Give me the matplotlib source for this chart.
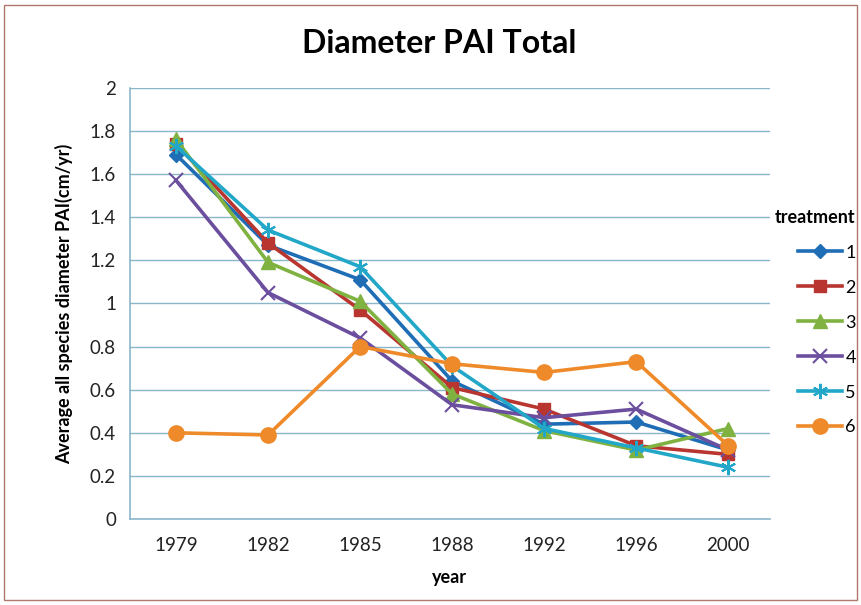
import matplotlib.pyplot as plt
from matplotlib.patches import Rectangle

plt.rcParams["font.family"] = ["Lato", "DejaVu Sans"]

years = ["1979", "1982", "1985", "1988", "1992", "1996", "2000"]
t1 = [1.69, 1.27, 1.11, 0.64, 0.44, 0.45, 0.32]
t2 = [1.74, 1.28, 0.97, 0.61, 0.51, 0.34, 0.30]
t3 = [1.76, 1.19, 1.01, 0.58, 0.41, 0.32, 0.42]
t4 = [1.57, 1.05, 0.84, 0.53, 0.47, 0.51, 0.32]
t5 = [1.73, 1.34, 1.17, 0.71, 0.42, 0.33, 0.24]
t6 = [0.40, 0.39, 0.80, 0.72, 0.68, 0.73, 0.34]
labels = ["1", "2", "3", "4", "5", "6"]

series = [t1, t2, t3, t4, t5, t6]
colors = ["#1f6db5", "#b83530", "#7fb241", "#6b4f9e", "#22a7c8", "#ef8a2a"]
markers = ["D", "s", "^", "x", (6, 2, 0), "o"]
msizes = [7, 9, 10, 10, 11, 11]

fig = plt.figure(figsize=(8.61, 6.05), dpi=100)
ax = fig.add_axes([0.151, 0.142, 0.743, 0.713])

x = list(range(len(years)))
grid_c = "#8ab6c9"
for s, c, m, ms, lab in zip(series, colors, markers, msizes, labels):
    thin = m == "x" or isinstance(m, tuple)
    ax.plot(x, s, color=c, lw=2.6, marker=m, markersize=ms,
            markeredgecolor=c, markeredgewidth=1.5 if thin else 1, label=lab)

ax.set_xlim(-0.5, 6.45)
ax.set_ylim(0, 2)
ax.set_yticks([i * 0.2 for i in range(11)])
ax.set_yticklabels(["0", "0.2", "0.4", "0.6", "0.8", "1", "1.2", "1.4", "1.6", "1.8", "2"])
ax.set_xticks(x)
ax.set_xticklabels(years)
ax.tick_params(axis="both", length=0, labelsize=13.5, colors="#222222")
ax.tick_params(axis="x", pad=13)
ax.tick_params(axis="y", pad=10)
ax.yaxis.grid(True, color=grid_c, lw=1)
ax.set_axisbelow(True)
for side in ("top", "right"):
    ax.spines[side].set_visible(False)
for side in ("left", "bottom"):
    ax.spines[side].set_color(grid_c)
    ax.spines[side].set_linewidth(1.2)

ax.set_xlabel("year", fontsize=13, fontweight="bold", labelpad=11)
ax.set_ylabel("Average all species diameter PAI(cm/yr)", fontsize=13,
              fontweight="bold", labelpad=12)
fig.text(0.51, 0.928, "Diameter PAI Total", ha="center", va="center",
         fontsize=23, fontweight="bold")

handles, labs = ax.get_legend_handles_labels()
leg = fig.legend(handles, labs, title="treatment", loc="upper right",
                 bbox_to_anchor=(0.994, 0.655), frameon=False, fontsize=13,
                 handlelength=2.4, labelspacing=1.05, handletextpad=0.2,
                 borderpad=0, borderaxespad=0)
leg.get_title().set_fontweight("bold")
leg.get_title().set_fontsize(13)
leg._legend_box.align = "right"

fig.patches.append(Rectangle((0.005, 0.008), 0.99, 0.984, transform=fig.transFigure,
                             fill=False, edgecolor="#b0786a", lw=1))

fig.savefig("out.png", dpi=100)
